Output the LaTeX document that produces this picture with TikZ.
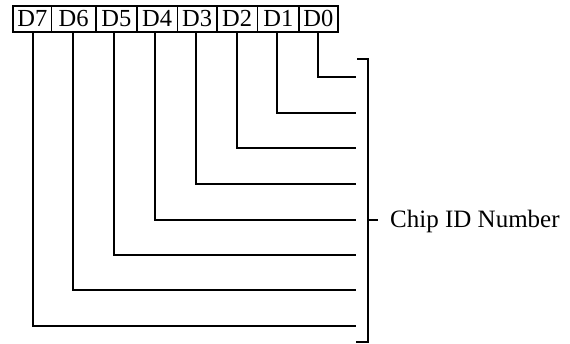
\documentclass[tikz,border=0pt]{standalone}
\usepackage{fontspec}
\setmainfont{Liberation Serif}
\begin{document}
\begin{tikzpicture}[x=1pt,y=-1pt,
  bitbox/.style={draw,line width=1.6pt,minimum height=26pt,inner sep=0pt,font=\fontsize{24.5}{24.5}\selectfont,anchor=north west},
  wire/.style={line width=2pt},
  lbl/.style={font=\fontsize{25}{25}\selectfont,anchor=west,inner sep=0pt}]
\useasboundingbox (0,0) rectangle (570,343);
\node[bitbox,minimum width=38.4pt] (b7) at (12.3,5) {D7};
\node[bitbox,minimum width=44.3pt] (b6) at (50.7,5) {D6};
\node[bitbox,minimum width=41pt]   (b5) at (95,5)   {D5};
\node[bitbox,minimum width=40.7pt] (b4) at (136,5)  {D4};
\node[bitbox,minimum width=39.3pt] (b3) at (176.7,5) {D3};
\node[bitbox,minimum width=40.7pt] (b2) at (216,5)  {D2};
\node[bitbox,minimum width=41.6pt] (b1) at (256.7,5) {D1};
\node[bitbox,minimum width=38.7pt] (b0) at (298.3,5) {D0};
\foreach \i/\x/\y in {0/318.3/76.7,1/276.7/112.7,2/236.7/148.3,3/195.7/184,4/155/220,5/114.3/255,6/73.3/290,7/33.3/326}{
  \coordinate (e\i) at (356,\y);
  \draw[wire] (b\i.south -| \x,0) |- (e\i);
}
\coordinate (bt) at (367.7,59.3);
\coordinate (bb) at (367.7,341.7);
\coordinate (bm) at (367.7,220);
\coordinate (bml) at (378,220);
\draw[wire] (357,59.3) -- (bt) -- (bb) -- (356,341.7);
\draw[wire] (bm) -- (bml);
\node[lbl] (chip) at (390,221) {Chip ID Number};
\end{tikzpicture}
\end{document}
